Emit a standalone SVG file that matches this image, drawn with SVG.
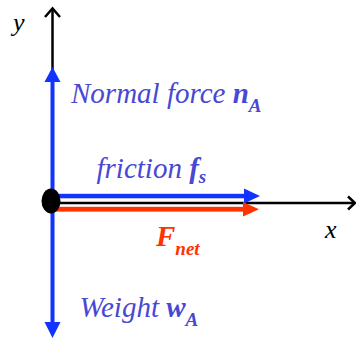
<svg xmlns="http://www.w3.org/2000/svg" width="356" height="339" viewBox="0 0 356 339">
<rect width="356" height="339" fill="#fff"/>
<text x="13" y="31" font-family="serif" font-style="italic" font-size="26" fill="#000">y</text>
<text x="325" y="238" font-family="serif" font-style="italic" font-size="26" fill="#000">x</text>
<g id="axes" stroke="#000" stroke-width="2.5" fill="none">
<line x1="52.5" y1="70" x2="52.5" y2="9"/>
<polyline points="45,17 52.5,8.5 60,17"/>
<line x1="52" y1="203" x2="355" y2="203"/>
<polyline points="348,196.5 355,203 348,209.5"/>
</g>
<g id="connectors">
<g id="normal-arrow" fill="#1033FF">
<rect x="50.5" y="80" width="4" height="122"/>
<polygon points="52.5,67 44.5,82 60.5,82"/>
</g>
<g id="weight-arrow" fill="#1033FF">
<rect x="50.5" y="200" width="4" height="124"/>
<polygon points="52.5,338 44.5,322 60.5,322"/>
</g>
<g id="friction-arrow" fill="#1033FF">
<rect x="55" y="193.8" width="191" height="4.5"/>
<polygon points="260,196 244,188.5 244,203.5"/>
</g>
<g id="fnet-arrow" fill="#FF3300">
<rect x="55" y="206.8" width="190" height="4.8"/>
<polygon points="259,209.2 243,202 243,216.5"/>
</g>
</g>
<g id="object">
<ellipse cx="51" cy="201" rx="9.5" ry="12.5" fill="#000"/>
</g>
<g id="label-normal">
<text x="71" y="103" fill="#4848D4" font-family="serif" font-style="italic" font-size="29">Normal force <tspan font-weight="bold">n</tspan><tspan font-weight="bold" font-size="19" dy="9">A</tspan></text>
</g>
<g id="label-friction">
<text x="96.5" y="178" fill="#4848D4" font-family="serif" font-style="italic" font-size="29">friction <tspan font-weight="bold">f</tspan><tspan font-weight="bold" font-size="19" dy="5">s</tspan></text>
</g>
<g id="label-fnet">
<text x="156" y="246" fill="#FF3300" font-family="serif" font-style="italic" font-weight="bold" font-size="29">F<tspan font-size="19" dy="9">net</tspan></text>
</g>
<g id="label-weight">
<text x="79.5" y="317" fill="#4848D4" font-family="serif" font-style="italic" font-size="29">Weight <tspan font-weight="bold">w</tspan><tspan font-weight="bold" font-size="19" dy="9">A</tspan></text>
</g>
</svg>
